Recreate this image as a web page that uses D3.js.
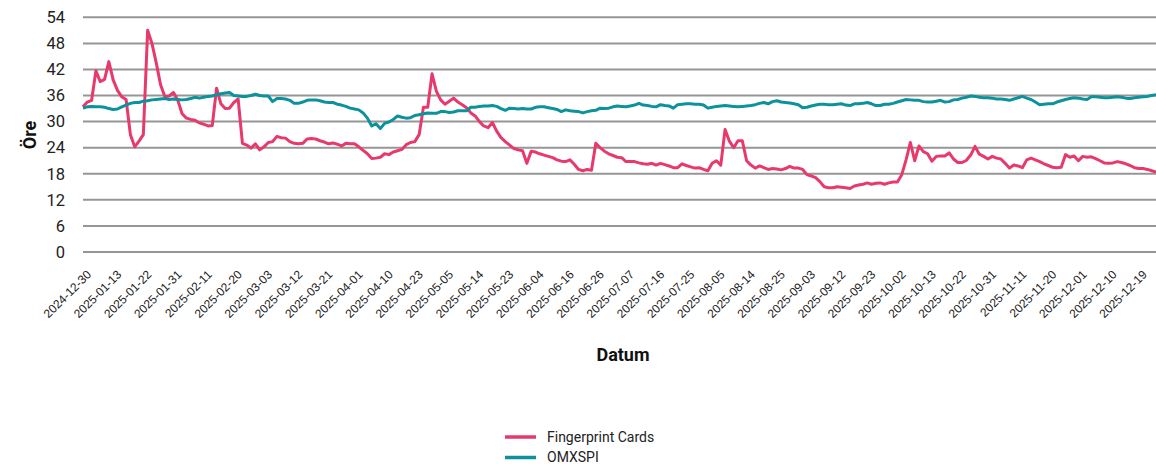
<!DOCTYPE html>
<html>
<head>
<meta charset="utf-8">
<script src="https://cdn.jsdelivr.net/npm/d3@7"></script>
<style>
  html, body { margin: 0; padding: 0; background: #fff; }
  svg { display: block; font-family: Roboto, "Noto Sans", sans-serif; }
</style>
</head>
<body>
<svg id="chart" width="1156" height="464"></svg>
<script>
// ---- Data ----
const startDate = "2024-12-30";
const endDate = "2025-12-30";
const holidays = ["2024-12-31","2025-01-01","2025-01-06","2025-04-18","2025-04-21","2025-05-01",
  "2025-05-29","2025-06-06","2025-06-20","2025-12-24","2025-12-25","2025-12-26","2025-12-31"];

const fingerprint = [
  33.4, 34.5, 34.9, 41.7, 39.2, 39.7, 43.8, 39.6, 37.2, 35.7,
  35.1, 27.0, 24.2, 25.5, 27.0, 51.0, 48.0, 43.5, 38.5, 35.7,
  35.9, 36.7, 34.9, 31.8, 30.8, 30.5, 30.3, 29.7, 29.4, 29.0,
  29.1, 37.7, 34.1, 33.0, 33.1, 34.4, 35.2, 25.0, 24.6, 23.9,
  24.9, 23.5, 24.2, 25.2, 25.4, 26.6, 26.3, 26.2, 25.4, 25.0,
  24.9, 25.0, 26.0, 26.1, 26.0, 25.6, 25.3, 24.9, 25.1, 24.8,
  24.4, 25.0, 24.9, 24.9, 24.2, 23.4, 22.6, 21.5, 21.6, 21.8,
  22.6, 22.4, 23.0, 23.3, 23.6, 24.7, 25.2, 25.4, 27.0, 33.3,
  33.3, 41.0, 37.0, 35.0, 34.0, 34.7, 35.4, 34.5, 33.9, 33.2,
  32.0, 31.3, 30.0, 29.0, 28.6, 29.8, 27.8, 26.3, 25.4, 24.6,
  23.8, 23.5, 23.3, 20.4, 23.2, 23.0, 22.6, 22.3, 22.0, 21.7,
  21.2, 20.9, 20.8, 21.2, 20.2, 19.0, 18.7, 19.0, 18.8, 25.0,
  24.0, 23.2, 22.6, 22.2, 21.8, 21.7, 20.8, 20.8, 20.8, 20.5,
  20.3, 20.2, 20.4, 20.0, 20.4, 20.1, 19.8, 19.4, 19.4, 20.3,
  19.9, 19.6, 19.3, 19.4, 19.0, 18.7, 20.4, 21.0, 20.0, 28.2,
  25.5, 24.0, 25.6, 25.6, 21.0, 20.0, 19.3, 19.8, 19.4, 19.0,
  19.2, 19.1, 18.9, 19.2, 19.7, 19.3, 19.3, 19.0, 17.8, 17.5,
  17.1, 16.2, 15.0, 14.8, 14.8, 15.0, 14.9, 14.8, 14.6, 15.2,
  15.4, 15.6, 15.9, 15.6, 15.8, 15.9, 15.6, 15.9, 16.1, 16.1,
  17.8, 21.2, 25.2, 21.0, 24.4, 23.1, 22.6, 20.9, 22.0, 22.1,
  22.1, 22.8, 21.4, 20.6, 20.6, 21.1, 22.3, 24.3, 22.5, 22.0,
  21.4, 22.0, 21.6, 21.4, 20.4, 19.3, 20.0, 19.8, 19.4, 21.2,
  21.6, 21.2, 20.8, 20.3, 19.9, 19.5, 19.4, 19.5, 22.4, 21.8,
  22.1, 21.0, 22.0, 21.8, 21.9, 21.5, 21.0, 20.5, 20.4, 20.5,
  20.8, 20.6, 20.3, 19.9, 19.4, 19.2, 19.2, 19.0, 18.7, 18.4
];

const omxspi = [
  33.1, 33.4, 33.5, 33.4, 33.4, 33.3, 33.0, 32.8, 32.9, 33.4,
  33.8, 34.2, 34.4, 34.4, 34.7, 34.8, 35.0, 35.1, 35.2, 35.3,
  35.1, 35.2, 35.1, 35.0, 35.1, 35.3, 35.6, 35.4, 35.6, 35.8,
  35.9, 36.2, 36.4, 36.6, 36.7, 36.0, 35.9, 35.8, 35.8, 36.0,
  36.3, 36.0, 35.9, 35.9, 34.6, 35.3, 35.3, 35.2, 34.9, 34.2,
  34.2, 34.5, 34.9, 35.0, 35.0, 34.8, 34.5, 34.4, 34.4, 34.0,
  33.8, 33.5, 33.1, 32.9, 32.7, 32.0, 30.8, 29.0, 29.5, 28.4,
  29.6, 29.9, 30.5, 31.3, 31.0, 30.8, 30.9, 31.4, 31.6, 31.8,
  32.0, 31.9, 31.9, 32.3, 32.3, 32.1, 32.2, 32.5, 32.5, 32.5,
  33.3, 33.3, 33.5, 33.6, 33.6, 33.7, 33.5, 33.0, 32.6, 33.1,
  33.0, 32.9, 33.0, 32.9, 32.9, 33.3, 33.4, 33.4, 33.2, 33.0,
  32.8, 32.3, 32.7, 32.5, 32.4, 32.3, 32.0, 32.3, 32.5, 32.6,
  33.1, 33.0, 33.1, 33.4, 33.6, 33.5, 33.4, 33.6, 33.8, 34.2,
  33.8, 33.7, 33.5, 33.4, 33.9, 33.7, 33.6, 33.1, 33.9, 34.0,
  34.1, 34.1, 34.0, 34.0, 33.8, 33.1, 33.3, 33.5, 33.6, 33.7,
  33.6, 33.5, 33.4, 33.5, 33.6, 33.7, 33.9, 34.2, 34.4, 34.1,
  34.6, 34.8, 34.5, 34.4, 34.3, 34.1, 33.9, 33.2, 33.3, 33.6,
  33.8, 34.0, 34.0, 33.9, 33.9, 34.0, 34.1, 33.8, 33.7, 34.1,
  34.1, 34.2, 34.4, 34.1, 33.7, 33.7, 34.0, 34.0, 34.2, 34.5,
  34.8, 35.1, 35.0, 34.9, 34.9, 34.6, 34.5, 34.5, 34.7, 34.9,
  34.5, 34.6, 35.0, 35.1, 35.4, 35.6, 35.9, 35.8, 35.6, 35.5,
  35.5, 35.4, 35.2, 35.2, 35.1, 34.9, 35.2, 35.5, 35.8, 35.4,
  35.1, 34.5, 33.9, 34.0, 34.1, 34.1, 34.5, 34.8, 35.1, 35.3,
  35.5, 35.4, 35.2, 35.1, 35.7, 35.7, 35.6, 35.5, 35.5, 35.6,
  35.7, 35.6, 35.4, 35.3, 35.5, 35.6, 35.7, 35.8, 36.0, 36.2
];

const yTicks = [0, 6, 12, 18, 24, 30, 36, 42, 48, 54];
const seriesNames = ["Fingerprint Cards", "OMXSPI"];
const seriesColors = ["#e8396c", "#0b929c"];
const tickEvery = 7;

// ---- Trading-day categories ----
function buildDates() {
  const out = [];
  const hol = new Set(holidays);
  const d = new Date(startDate + "T12:00:00Z");
  const end = new Date(endDate + "T12:00:00Z");
  while (d <= end) {
    const wd = d.getUTCDay();
    const s = d.toISOString().slice(0, 10);
    if (wd !== 0 && wd !== 6 && !hol.has(s)) out.push(s);
    d.setUTCDate(d.getUTCDate() + 1);
  }
  return out;
}
const dates = buildDates();
const n = Math.min(dates.length, fingerprint.length, omxspi.length);
const categories = dates.slice(0, n);

// ---- Layout ----
const svg = d3.select("#chart");
const margin = { left: 83, right: 0 };
const W = 1156;
const x = d3.scalePoint().domain(categories).range([margin.left, W - margin.right]);
const y = d3.scaleLinear().domain([0, 54]).range([252, 17.3]);

// Gridlines
svg.append("g").selectAll("line").data(yTicks).join("line")
  .attr("x1", margin.left).attr("x2", W)
  .attr("y1", d => y(d)).attr("y2", d => y(d))
  .attr("stroke", "#969696").attr("stroke-width", 2);

// Y axis labels
const yAxis = d3.axisLeft(y).tickValues(yTicks).tickSize(0).tickPadding(0);
const yg = svg.append("g").attr("transform", `translate(65,0)`).call(yAxis);
yg.select(".domain").remove();
yg.selectAll("text").attr("font-size", 16.5).attr("fill", "#222").attr("font-family", "Roboto, sans-serif");

// X axis labels
const xTickVals = categories.filter((d, i) => i % tickEvery === 0);
const xAxis = d3.axisBottom(x).tickValues(xTickVals).tickSize(0).tickPadding(0);
const xg = svg.append("g").attr("transform", `translate(0,272)`).call(xAxis);
xg.select(".domain").remove();
xg.selectAll("text")
  .attr("font-size", 12).attr("fill", "#222")
  .attr("text-anchor", "end")
  .attr("dy", "0.7em").attr("dx", "0.3em")
  .attr("transform", "rotate(-45)");

// Lines
const seriesData = [fingerprint, omxspi];
const line = d3.line().x((d, i) => x(categories[i])).y(d => y(d));
seriesData.forEach((vals, k) => {
  svg.append("path")
    .datum(vals.slice(0, n))
    .attr("fill", "none")
    .attr("stroke", seriesColors[k])
    .attr("stroke-width", 3)
    .attr("stroke-linejoin", "round")
    .attr("d", line);
});

// Axis titles
svg.append("text")
  .attr("transform", `translate(36,135) rotate(-90)`)
  .attr("text-anchor", "middle")
  .attr("font-size", 18).attr("font-weight", "bold").attr("fill", "#111")
  .text("Öre");
svg.append("text")
  .attr("x", 623).attr("y", 361)
  .attr("text-anchor", "middle")
  .attr("font-size", 18).attr("font-weight", "bold").attr("fill", "#111")
  .text("Datum");

// Legend
const lg = svg.append("g").attr("transform", "translate(505,437)");
seriesNames.forEach((name, k) => {
  const g = lg.append("g").attr("transform", `translate(0,${k * 20.5})`);
  g.append("line").attr("x1", 0).attr("x2", 31).attr("y1", 0).attr("y2", 0)
    .attr("stroke", seriesColors[k]).attr("stroke-width", 3.5);
  g.append("text").attr("x", 42).attr("y", 0).attr("dy", "0.35em")
    .attr("font-size", 14).attr("fill", "#222").text(name);
});
</script>
</body>
</html>
